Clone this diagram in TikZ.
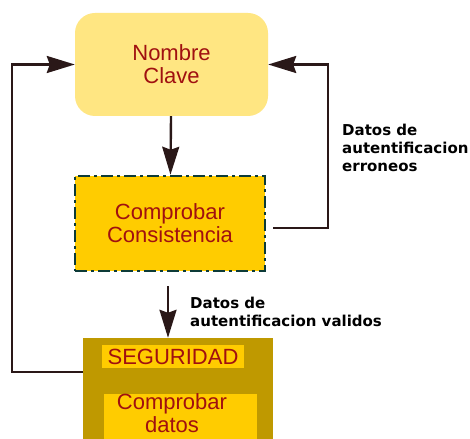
\documentclass[tikz,border=0pt]{standalone}
\usepackage{fontspec}
\setmainfont{Liberation Sans}
\newfontfamily\notefont{DejaVu Sans}
\usetikzlibrary{arrows.meta}
\definecolor{paleyellow}{HTML}{FFE682}
\definecolor{gold}{HTML}{FFCC00}
\definecolor{darkgold}{HTML}{BF9900}
\definecolor{boxtext}{HTML}{A01010}
\definecolor{tealline}{HTML}{0D3B38}
\definecolor{flowline}{HTML}{2A1818}
\tikzset{
  boxtxt/.style={font=\fontsize{22}{23}\selectfont, text=boxtext, align=center, inner sep=0pt},
  flow/.style={draw=flowline, line width=2.4pt, -{Stealth[length=28pt,width=17pt,inset=3pt]}},
  note/.style={font=\notefont\bfseries\fontsize{15}{18}\selectfont, align=left, anchor=north west, inner sep=0pt}
}
\begin{document}
\begin{tikzpicture}[x=1pt,y=-1pt]
\clip (0,0) rectangle (470,438);
\fill[white] (0,0) rectangle (470,438);
% boxes
\node[boxtxt, fill=paleyellow, rounded corners=20pt, minimum width=193pt, minimum height=103pt] (nombre) at (171.5,64.5) {Nombre\\Clave};
\node[boxtxt, fill=gold, draw=tealline, line width=2.5pt, dash pattern=on 12pt off 4pt on 3pt off 4pt, minimum width=190pt, minimum height=95pt] (consist) at (170,223.5) {Comprobar\\Consistencia};
\node[fill=darkgold, minimum width=190pt, minimum height=110pt, inner sep=0pt] (seguro) at (178,393) {};
\node[boxtxt, fill=gold, minimum width=142pt, minimum height=23pt] (seguridad) at (173,356.5) {SEGURIDAD};
\node[fill=gold, minimum width=153pt, minimum height=50pt, inner sep=0pt] (datos) at (180.5,419) {};
\node[boxtxt] (datostxt) at (172,413) {Comprobar\\datos};
% connectors
\draw[flow] (nombre) -- (consist);
\draw[flow, shorten <=14pt] ([xshift=-2pt]consist.south) -- ([xshift=-10pt]seguro.north);
\draw[flow, shorten <=7pt] ([yshift=-4.5pt]consist.east) -- ++(62,0) |- (nombre.east);
\draw[flow] ([yshift=21pt]seguro.west) -- ++(-71,0) |- (nombre.west);
% labels
\node[note] (erroneos) at (342,124) {Datos de\\autentificacion\\erroneos};
\node[note] (validos) at (190,297) {Datos de\\autentificacion validos};
\end{tikzpicture}
\end{document}
